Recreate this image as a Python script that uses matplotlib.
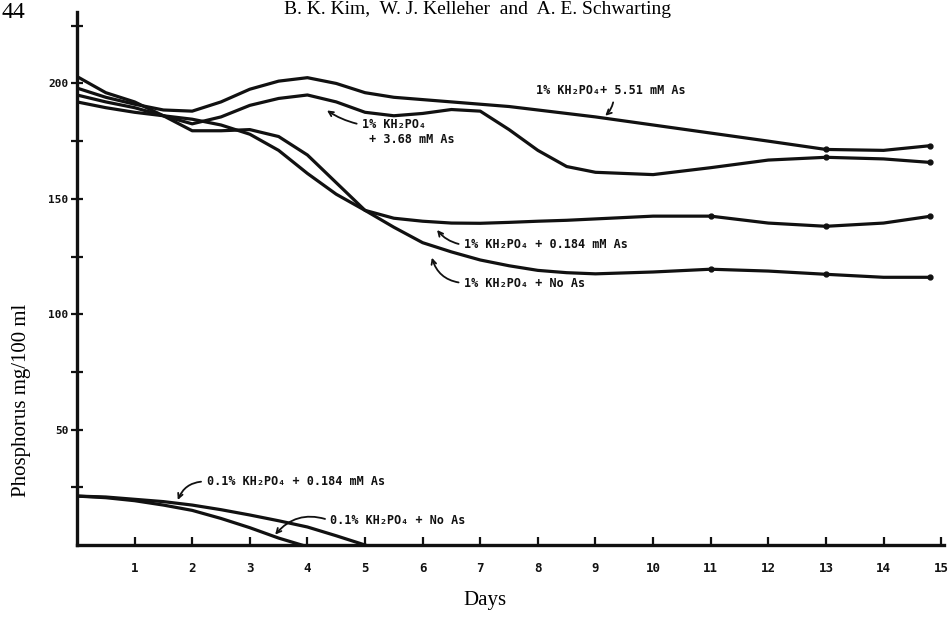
import numpy as np
import matplotlib
matplotlib.use("Agg")
import matplotlib.pyplot as plt

# values
days = [0, 0.5, 1, 1.5, 2, 2.5, 3, 3.5, 4, 4.5, 5, 5.5, 6, 6.5, 7, 7.5, 8, 8.5,
        9, 10, 11, 12, 13, 14, 14.8]
as_551 = [198, 194, 191, 188.5, 188, 192, 197.5, 201, 202.5, 200, 196, 194, 193,
          192, 191, 190, 188.5, 187, 185.5, 182, 178.5, 175, 171.4, 171, 173]
as_368 = [195, 192, 189.5, 186, 182.5, 185.5, 190.5, 193.5, 195, 192, 187.5, 186,
          187, 188.7, 188, 180, 171, 164, 161.5, 160.5, 163.5, 166.8, 168, 167.3, 165.8]
as_0184 = [192, 189.5, 187.5, 186, 184.5, 182, 178, 171, 161, 152, 145, 141.6,
           140.3, 139.5, 139.4, 139.8, 140.3, 140.7, 141.3, 142.5, 142.5, 139.5,
           138.1, 139.5, 142.4]
no_as = [203, 196, 192, 186, 179.5, 179.5, 180, 177, 169, 157, 145, 137.7, 131,
         127, 123.5, 121, 119, 118, 117.5, 118.3, 119.5, 118.7, 117.3, 116, 116]

low_days_0184 = [0, 0.5, 1, 1.5, 2, 2.5, 3, 3.5, 4, 4.5, 5]
low_0184 = [21.2, 20.8, 19.8, 18.8, 17.3, 15.3, 13, 10.5, 7.8, 4, 0]
low_days_noas = [0, 0.5, 1, 1.5, 2, 2.5, 3, 3.5, 3.9]
low_noas = [21.2, 20.5, 19.2, 17.3, 15, 11.5, 7.5, 3, 0]

x_ticks = list(range(1, 16))
y_ticks = [25, 50, 75, 100, 125, 150, 175, 200, 225]
y_labels = ['', '50', '', '100', '', '150', '', '200', '']

hand = ['DejaVu Sans Mono', 'DejaVu Sans']
ink = '#111111'

fig = plt.figure(figsize=(9.48, 6.17), dpi=100)
ax = fig.add_axes([0.0812, 0.1167, 0.9146, 0.864])

lw = 2.3
ax.plot(days, as_551, color=ink, lw=lw, marker='o', ms=3.5, markevery=[22, 24],
        solid_joinstyle='round')
ax.plot(days, as_368, color=ink, lw=lw, marker='o', ms=3.5, markevery=[22, 24],
        solid_joinstyle='round')
ax.plot(days, as_0184, color=ink, lw=lw, marker='o', ms=3.5, markevery=[20, 22, 24],
        solid_joinstyle='round')
ax.plot(days, no_as, color=ink, lw=lw, marker='o', ms=3.5, markevery=[20, 22, 24],
        solid_joinstyle='round')
ax.plot(low_days_0184, low_0184, color=ink, lw=lw, solid_joinstyle='round')
ax.plot(low_days_noas, low_noas, color=ink, lw=lw, solid_joinstyle='round')

ax.set_xlim(0, 15.05)
ax.set_ylim(0, 231)
for s in ['top', 'right']:
    ax.spines[s].set_visible(False)
for s in ['left', 'bottom']:
    ax.spines[s].set_linewidth(2.4)
    ax.spines[s].set_color(ink)

ax.set_xticks(x_ticks)
ax.set_xticklabels([str(t) for t in x_ticks], family=hand, fontweight='bold',
                   fontsize=9)
ax.set_yticks(y_ticks)
ax.set_yticklabels(y_labels, family=hand, fontweight='bold', fontsize=8)
ax.tick_params(axis='x', direction='in', length=6, width=1.6, pad=12, colors=ink)
ax.tick_params(axis='y', direction='inout', length=8, width=1.6, pad=2, colors=ink)

akw = dict(family=hand, fontweight='bold', fontsize=8.5, color=ink)
arr = dict(arrowstyle='->', color=ink, lw=1.3, shrinkA=2, shrinkB=0)

ax.annotate('1% KH\u2082PO\u2084+ 5.51 mM As', xy=(9.17, 186), xytext=(7.97, 197),
            ha='left', va='center',
            arrowprops=dict(arr, relpos=(0.52, 0), connectionstyle='arc3,rad=-0.2'),
            **akw)
ax.annotate('1% KH\u2082PO\u2084\n + 3.68 mM As', xy=(4.34, 188.3), xytext=(4.95, 179),
            ha='left', va='center',
            arrowprops=dict(arr, relpos=(0, 0.75), connectionstyle='arc3,rad=-0.1'),
            **akw)
ax.annotate('1% KH\u2082PO\u2084 + 0.184 mM As', xy=(6.25, 136.5), xytext=(6.72, 130),
            ha='left', va='center',
            arrowprops=dict(arr, relpos=(0, 0.5), connectionstyle='arc3,rad=-0.2'),
            **akw)
ax.annotate('1% KH\u2082PO\u2084 + No As', xy=(6.16, 124.5), xytext=(6.72, 113.5),
            ha='left', va='center',
            arrowprops=dict(arr, relpos=(0, 0.5), connectionstyle='arc3,rad=-0.35'),
            **akw)
ax.annotate('0.1% KH\u2082PO\u2084 + 0.184 mM As', xy=(1.75, 19.5), xytext=(2.25, 27.5),
            ha='left', va='center',
            arrowprops=dict(arr, relpos=(0, 0.5), connectionstyle='arc3,rad=0.35'),
            **akw)
ax.annotate('0.1% KH\u2082PO\u2084 + No As', xy=(3.44, 4.5), xytext=(4.4, 10.5),
            ha='left', va='center',
            arrowprops=dict(arr, relpos=(0, 0.5), connectionstyle='arc3,rad=0.35'),
            **akw)

serif = ['Liberation Serif', 'DejaVu Serif']
fig.text(22 / 948, 1 - 400 / 617, 'Phosphorus mg/100 ml', rotation=90,
         ha='center', va='center', family=serif, fontsize=15)
fig.text(485 / 948, 1 - 601 / 617, 'Days', ha='center', va='center',
         family=serif, fontsize=15)
fig.text(477 / 948, 1 - 10 / 617, 'B. K. Kim,  W. J. Kelleher  and  A. E. Schwarting',
         ha='center', va='center', family=serif, fontsize=14)
fig.text(2 / 948, 1 - 12 / 617, '44', ha='left', va='center', family=serif, fontsize=17)

fig.savefig('out.png', dpi=100, facecolor='white')
